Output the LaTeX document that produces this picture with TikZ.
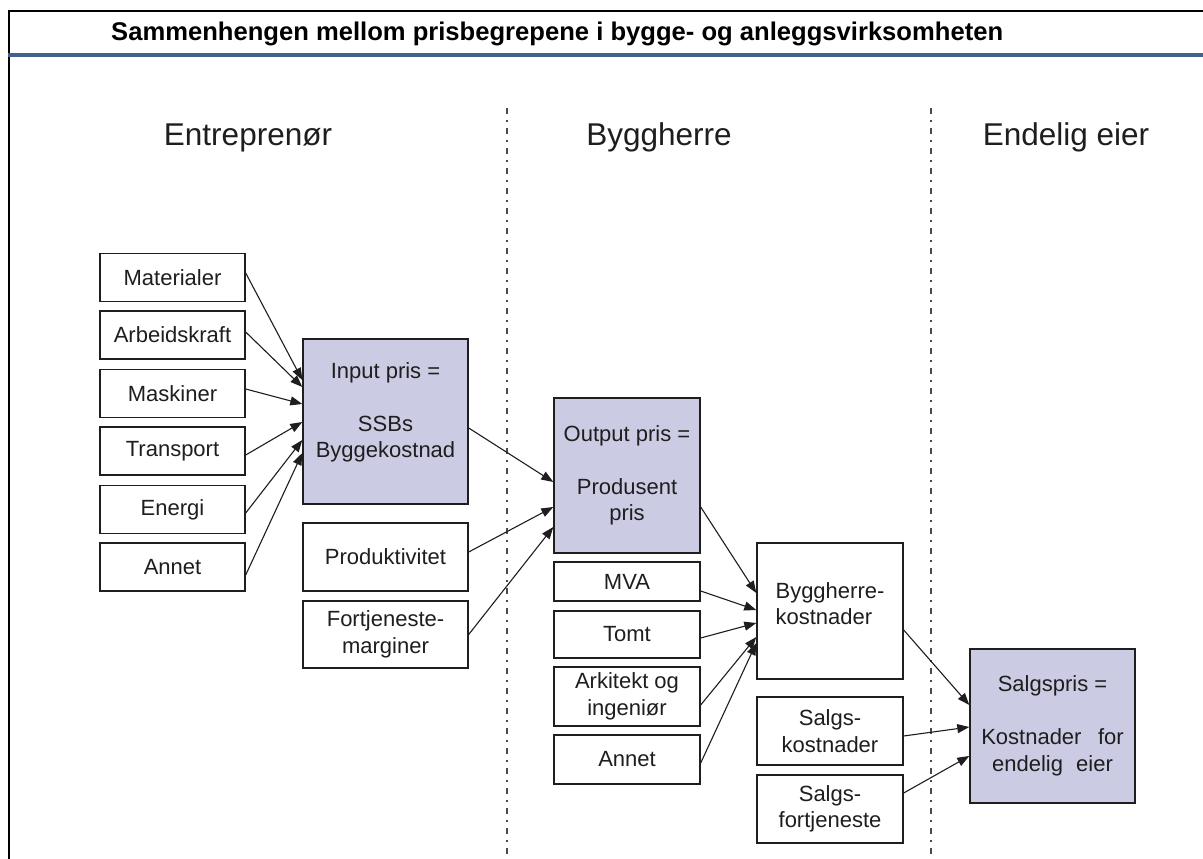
\documentclass[tikz,border=0pt]{standalone}
\usepackage{fontspec}
\setmainfont{Liberation Sans}
\usetikzlibrary{arrows.meta}
\definecolor{boxfill}{RGB}{204,203,228}
\definecolor{rulebar}{RGB}{70,96,140}
\definecolor{ink}{RGB}{30,30,30}
\tikzset{
  box/.style={draw=ink, line width=1.4pt, rectangle, inner sep=0pt, align=center,
    font=\fontsize{22}{26.5}\selectfont, text=ink},
  pricebox/.style={box, fill=boxfill},
  flow/.style={draw=ink, line width=1.1pt, -{Triangle[length=12pt,width=9pt]}},
  divider/.style={draw=ink!80, line width=1.2pt, dash pattern=on 6pt off 6pt on 2pt off 6pt},
  heading/.style={font=\fontsize{31.5}{36}\selectfont, anchor=base, text=ink},
}
\begin{document}
\begin{tikzpicture}[x=1pt,y=-1pt]
\useasboundingbox (0,0) rectangle (1203,859);
\fill[white] (0,0) rectangle (1203,859);

% frame and title rule
\draw[black, line width=2.2pt] (9,859) -- (9,11) -- (1203,11);
\draw[rulebar, line width=4pt] (8,55) -- (1203,55);
\node[anchor=base west, font=\bfseries\fontsize{25.6}{30}\selectfont, inner sep=0pt] (title) at (111,41)
  {Sammenhengen mellom prisbegrepene i bygge- og anleggsvirksomheten};

% column dividers
\coordinate (d1top) at (507,108);
\coordinate (d1bot) at (507,859);
\coordinate (d2top) at (931,108);
\coordinate (d2bot) at (931,859);
\draw[divider] (d1top) -- (d1bot);
\draw[divider] (d2top) -- (d2bot);

% column headings
\node[heading] (h1) at (248,145) {Entreprenør};
\node[heading] (h2) at (659,145) {Byggherre};
\node[heading] (h3) at (1066,145) {Endelig eier};

% contractor inputs
\node[box, minimum width=145pt, minimum height=48pt] (mat)  at (172.5,277.5) {Materialer};
\node[box, minimum width=145pt, minimum height=48pt] (arb)  at (172.5,335)   {Arbeidskraft};
\node[box, minimum width=145pt, minimum height=48pt] (mask) at (172.5,393.5) {Maskiner};
\node[box, minimum width=145pt, minimum height=48pt] (tran) at (172.5,451)   {Transport};
\node[box, minimum width=145pt, minimum height=48pt] (ener) at (172.5,509.5) {Energi};
\node[box, minimum width=145pt, minimum height=48pt] (ann1) at (172.5,567)   {Annet};

\node[pricebox, minimum width=165pt, minimum height=165pt] (inp) at (385.5,421.5)
  {Input pris =\\[26.5pt]SSBs\\Byggekostnad\\[-4pt]};
\node[box, minimum width=165pt, minimum height=68pt] (prod) at (385.5,557)   {Produktivitet};
\node[box, minimum width=165pt, minimum height=67pt] (fort) at (385.5,634.5) {Fortjeneste-\\marginer};

% developer column
\node[pricebox, minimum width=146pt, minimum height=155pt] (out) at (627,475.5)
  {Output pris =\\[26.5pt]Produsent\\pris};
\node[box, minimum width=146pt, minimum height=39pt] (mva)  at (627,581.5) {MVA};
\node[box, minimum width=146pt, minimum height=47pt] (tomt) at (627,634.5) {Tomt};
\node[box, minimum width=146pt, minimum height=59pt] (ark)  at (627,696.5) {Arkitekt og\\ingeniør};
\node[box, minimum width=146pt, minimum height=49pt] (ann2) at (627,759.5) {Annet};

\node[box, align=left, minimum width=146pt, minimum height=136pt] (bygg) at (830,611)
  {Byggherre-\\kostnader\\[-12pt]};
\node[box, minimum width=146pt, minimum height=68pt] (sk) at (830,731) {Salgs-\\kostnader};
\node[box, minimum width=146pt, minimum height=68pt] (sf) at (830,809) {Salgs-\\fortjeneste};

% final owner
\node[pricebox, minimum width=165pt, minimum height=154pt] (sp) at (1052.5,726)
  {Salgspris =\\[26.5pt]Kostnader\hspace{0.75em}for\\endelig\hspace{0.6em}eier};

% flows into input price
\draw[flow] ([yshift=4.5pt]mat.east)  -- ([yshift=41.5pt]inp.west);
\draw[flow] ([yshift=3pt]arb.east)    -- ([yshift=34.5pt]inp.west);
\draw[flow] ([yshift=4.5pt]mask.east) -- ([yshift=17.5pt]inp.west);
\draw[flow] ([yshift=-4pt]tran.east)  -- ([yshift=-0.5pt]inp.west);
\draw[flow] ([yshift=-3.5pt]ener.east) -- ([yshift=-18.5pt]inp.west);
\draw[flow] ([yshift=-8pt]ann1.east)  -- ([yshift=-31.5pt]inp.west);

% flows into output price
\draw[flow] ([yshift=-6.5pt]inp.east) -- ([yshift=-6.5pt]out.west);
\draw[flow] ([yshift=5pt]prod.east)   -- ([yshift=-31.5pt]out.west);
\draw[flow] (fort.east)               -- ([yshift=-51.5pt]out.west);

% flows into developer costs
\draw[flow] ([yshift=-31.5pt]out.east) -- ([yshift=18pt]bygg.west);
\draw[flow] ([yshift=-9.5pt]mva.east)  -- ([yshift=1pt]bygg.west);
\draw[flow] ([yshift=-3.5pt]tomt.east) -- ([yshift=-12pt]bygg.west);
\draw[flow] ([yshift=-8.5pt]ark.east)  -- ([yshift=-26pt]bygg.west);
\draw[flow] ([yshift=-3.5pt]ann2.east) -- ([yshift=-32pt]bygg.west);

% flows into sales price
\draw[flow] ([yshift=-19pt]bygg.east) -- ([yshift=21pt]sp.west);
\draw[flow] ([yshift=-5pt]sk.east)    -- ([yshift=-1pt]sp.west);
\draw[flow] ([yshift=16pt]sf.east)    -- ([yshift=-30pt]sp.west);
\end{tikzpicture}
\end{document}
